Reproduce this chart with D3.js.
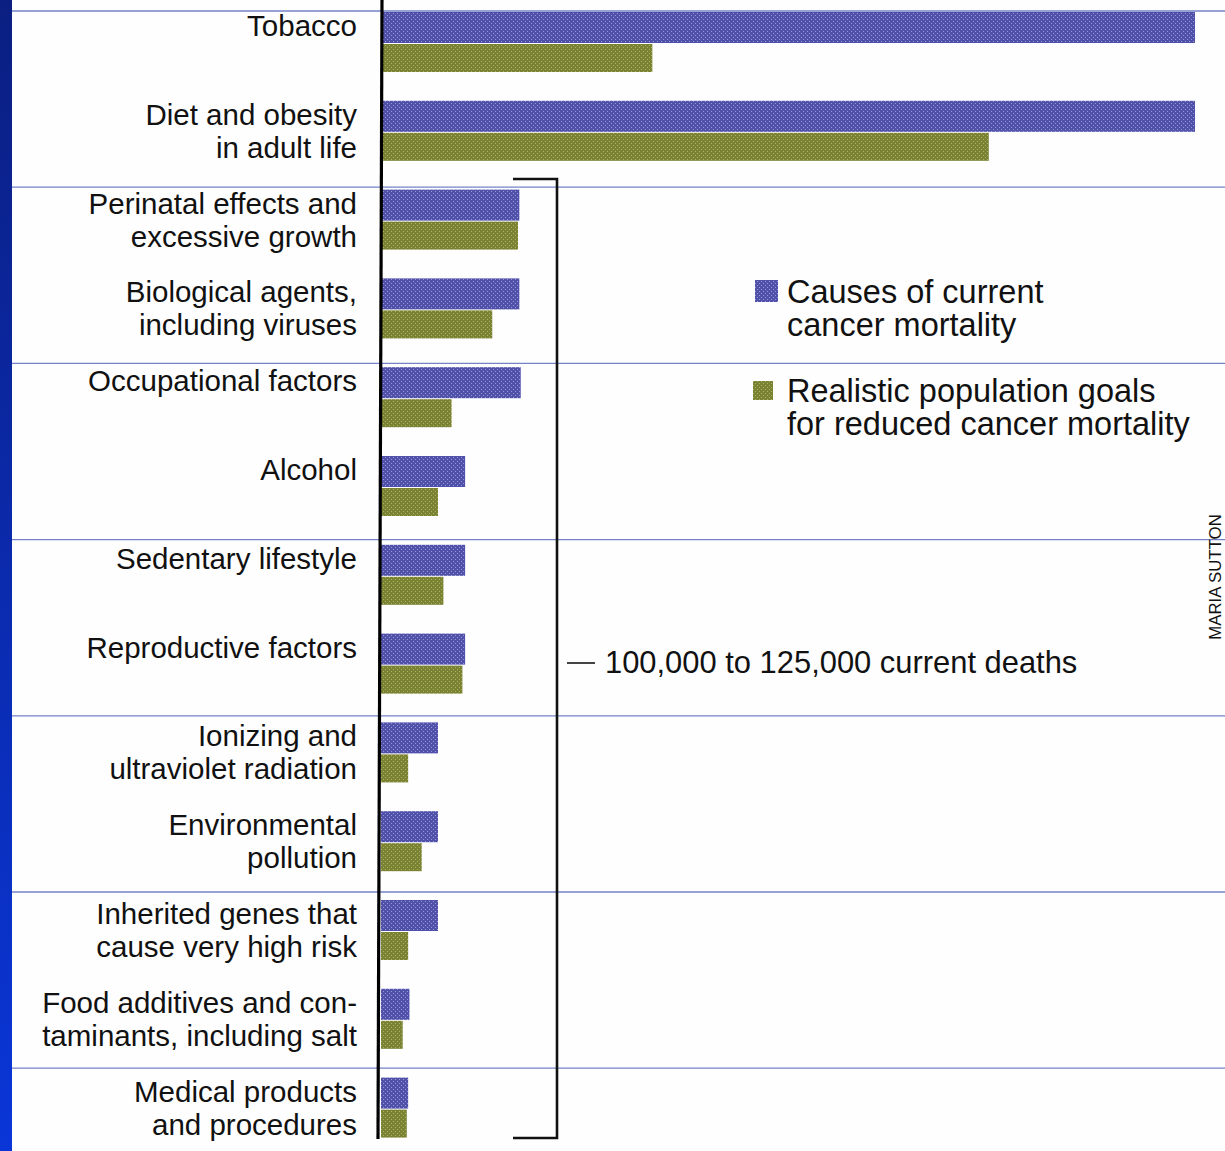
<!DOCTYPE html>
<html>
<head>
<meta charset="utf-8">
<script src="https://cdn.jsdelivr.net/npm/d3@7"></script>
<style>
  html, body { margin: 0; padding: 0; background: #fefefe; }
  svg { display: block; }
</style>
</head>
<body>
<svg id="chart" width="1225" height="1151"></svg>
<script>
// ---- data ----
const categories = [
  "Tobacco", "Diet and obesity in adult life", "Perinatal effects and excessive growth",
  "Biological agents, including viruses", "Occupational factors", "Alcohol",
  "Sedentary lifestyle", "Reproductive factors", "Ionizing and ultraviolet radiation",
  "Environmental pollution", "Inherited genes that cause very high risk",
  "Food additives and contaminants, including salt", "Medical products and procedures"
];
const labelLines = [
  ["Tobacco"], ["Diet and obesity", "in adult life"], ["Perinatal effects and", "excessive growth"],
  ["Biological agents,", "including viruses"], ["Occupational factors"], ["Alcohol"],
  ["Sedentary lifestyle"], ["Reproductive factors"], ["Ionizing and", "ultraviolet radiation"],
  ["Environmental", "pollution"], ["Inherited genes that", "cause very high risk"],
  ["Food additives and con-", "taminants, including salt"], ["Medical products", "and procedures"]
];
// percent of cancer deaths
const currentMortality = [30, 30, 5.1, 5.1, 5.15, 3.1, 3.1, 3.1, 2.1, 2.1, 2.1, 1.05, 1.0];
const realisticGoals   = [10, 22.4, 5.05, 4.1, 2.6, 2.1, 2.3, 3.0, 1.0, 1.5, 1.0, 0.8, 0.95];
const seriesNames = [["Causes of current", "cancer mortality"], ["Realistic population goals", "for reduced cancer mortality"]];
const sectionStarts = [0, 2, 4, 6, 8, 10, 12]; // category index at which each ruled section begins
const bracketNote = "100,000 to 125,000 current deaths";
const credit = "MARIA SUTTON";

// ---- drawing ----
const svg = d3.select("#chart");
const W = 1225, H = 1151;
const defs = svg.append("defs");

const grad = defs.append("linearGradient").attr("id", "strip").attr("x1", 0).attr("y1", 0).attr("x2", 0).attr("y2", 1);
grad.append("stop").attr("offset", "0%").attr("stop-color", "#0b1f82");
grad.append("stop").attr("offset", "100%").attr("stop-color", "#0a36d8");

function halftone(id, base, dot) {
  const p = defs.append("pattern").attr("id", id).attr("patternUnits", "userSpaceOnUse")
    .attr("width", 4).attr("height", 4);
  p.append("rect").attr("width", 4).attr("height", 4).attr("fill", base);
  p.append("rect").attr("x", 1).attr("y", 1).attr("width", 1).attr("height", 1).attr("fill", dot);
  p.append("rect").attr("x", 3).attr("y", 3).attr("width", 1).attr("height", 1).attr("fill", dot);
}
halftone("blueHT", "#5052aa", "#9a96d8");
halftone("greenHT", "#7a8234", "#b0b060");
const fills = ["url(#blueHT)", "url(#greenHT)"];

svg.append("rect").attr("width", W).attr("height", H).attr("fill", "#fefefe");
svg.append("rect").attr("x", 0).attr("y", 0).attr("width", 12).attr("height", H).attr("fill", "url(#strip)");

const x = d3.scaleLinear().domain([0, 30]).range([381, 1195]);
const step = 88.8;
const y = d3.scaleBand().domain(categories).range([12, 12 + step * categories.length]).paddingInner(0);
const section = d3.scaleLinear().domain([0, 1]).range([11, 187.2]);

// section rules
svg.append("g").selectAll("line").data(sectionStarts).join("line")
  .attr("x1", 12).attr("x2", W)
  .attr("y1", (d, i) => section(i)).attr("y2", (d, i) => section(i))
  .attr("stroke", "#7383c8").attr("stroke-width", 1.3);

// bars
const blueH = 31, greenH = 28;
svg.append("g").selectAll("rect").data(categories).join("rect")
  .attr("x", x(0)).attr("y", d => y(d))
  .attr("width", (d, i) => x(currentMortality[i]) - x(0)).attr("height", blueH)
  .attr("fill", fills[0]);
svg.append("g").selectAll("rect").data(categories).join("rect")
  .attr("x", x(0)).attr("y", d => y(d) + blueH + 1)
  .attr("width", (d, i) => x(realisticGoals[i]) - x(0)).attr("height", greenH)
  .attr("fill", fills[1]);

// axis line
svg.append("line").attr("x1", x(0) + 1).attr("x2", x(0) - 3).attr("y1", 0).attr("y2", 1139)
  .attr("stroke", "#000").attr("stroke-width", 3.2);

// category labels
const lab = svg.append("g").attr("font-family", "'Liberation Sans', Arial, sans-serif")
  .attr("font-size", 29.5).attr("fill", "#111").attr("text-anchor", "end");
categories.forEach((c, i) => {
  const t = lab.append("text").attr("x", 357).attr("y", y(c) + 24);
  labelLines[i].forEach((ln, j) => t.append("tspan").attr("x", 357).attr("dy", j === 0 ? 0 : 33).text(ln));
});

// bracket
svg.append("path")
  .attr("d", `M513,179 H557 V1138 H513`)
  .attr("fill", "none").attr("stroke", "#111").attr("stroke-width", 2.6);
svg.append("line").attr("x1", 567).attr("x2", 595).attr("y1", 663).attr("y2", 663)
  .attr("stroke", "#444").attr("stroke-width", 2);
svg.append("text").attr("x", 605).attr("y", 673)
  .attr("font-family", "'Liberation Sans', Arial, sans-serif").attr("font-size", 30.9).attr("fill", "#111")
  .text(bracketNote);

// legend
const legend = svg.append("g").attr("font-family", "'Liberation Sans', Arial, sans-serif")
  .attr("font-size", 32.5).attr("fill", "#111");
const legY = [303, 402];
const sq = [{x: 755, y: 280, w: 23, h: 22}, {x: 753, y: 381, w: 20, h: 19}];
seriesNames.forEach((s, i) => {
  legend.append("rect").attr("x", sq[i].x).attr("y", sq[i].y).attr("width", sq[i].w).attr("height", sq[i].h).attr("fill", fills[i]);
  const t = legend.append("text").attr("x", 787).attr("y", legY[i]);
  s.forEach((ln, j) => t.append("tspan").attr("x", 787).attr("dy", j === 0 ? 0 : 33).text(ln));
});

// credit
svg.append("text").attr("transform", "translate(1221,577) rotate(-90)")
  .attr("text-anchor", "middle").attr("font-family", "'Liberation Sans', Arial, sans-serif")
  .attr("font-size", 16.8).attr("fill", "#111").text(credit);
</script>
</body>
</html>
